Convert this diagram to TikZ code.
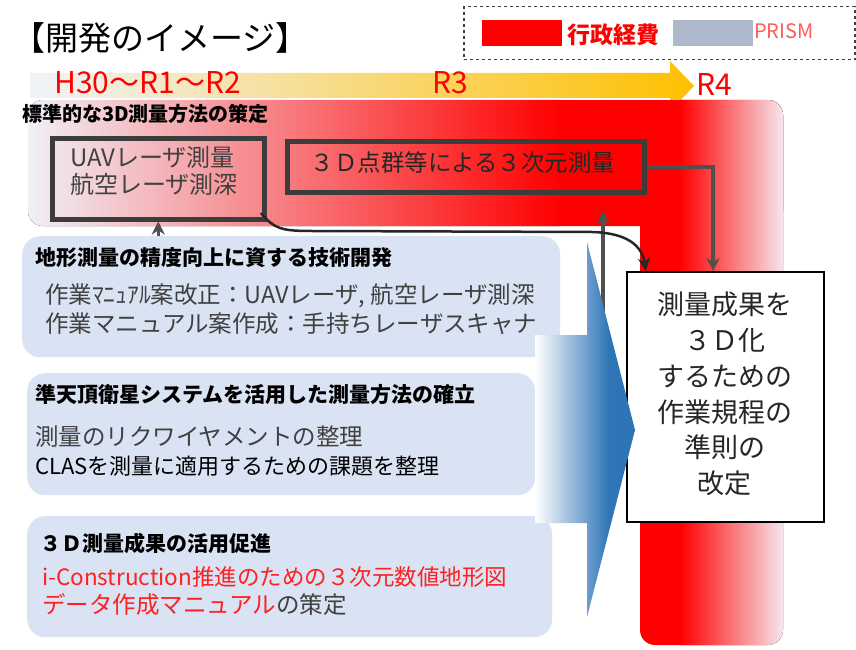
\documentclass[tikz,border=0pt]{standalone}
\usepackage{fontspec}
\setmainfont{Noto Sans CJK JP}
\usetikzlibrary{arrows.meta}
\definecolor{boxblue}{HTML}{DAE3F3}
\definecolor{legred}{HTML}{FF0000}
\definecolor{leggray}{HTML}{ADB9CA}
\definecolor{yel}{HTML}{FFC000}
\definecolor{pale}{RGB}{240,243,250}
\definecolor{palepink}{RGB}{245,232,238}
\definecolor{linegray}{HTML}{505050}
\definecolor{boxline}{HTML}{3C3C3C}
\definecolor{arrowblue}{HTML}{2E75B6}
\definecolor{textgray}{HTML}{404040}
\definecolor{txtred}{HTML}{FF2020}
\definecolor{prism}{HTML}{FF5B5B}
\pgfdeclarehorizontalshading{bluearrow}{100bp}{color(0bp)=(white); color(25bp)=(white); color(62bp)=(arrowblue); color(100bp)=(arrowblue)}
\newcommand{\fs}[1]{\fontsize{#1}{#1}\selectfont}
\begin{document}
\begin{tikzpicture}[x=1pt,y=-1pt,
  txt/.style={anchor=west,inner sep=0pt},
  bluebox/.style={fill=boxblue,rounded corners=18pt,anchor=north west,inner sep=0pt},
  thickbox/.style={draw=boxline,line width=4.5pt,anchor=north west,inner sep=0pt},
  grayarrow/.style={draw=linegray,line width=3.5pt,-{Stealth[length=13pt,width=13pt]}},
  blackarrow/.style={draw=black!85,line width=2.5pt,-{Stealth[length=13pt,width=12pt]}}]
\useasboundingbox (0,0) rectangle (856,650);
\fill[white] (0,0) rectangle (856,650);

% title
\node[txt] (title) at (12,38) {\fs{33}【開発のイメージ】};

% legend
\node[draw=textgray,dashed,line width=1.5pt,anchor=north west,minimum width=391pt,minimum height=53pt,inner sep=0pt] (legend) at (463,6) {};
\node[fill=legred,anchor=north west,minimum width=80pt,minimum height=26pt,inner sep=0pt] (legr) at (482,20) {};
\node[txt,text=legred] (legrt) at (567,35) {\fs{23}\bfseries 行政経費};
\node[fill=leggray,anchor=north west,minimum width=80pt,minimum height=26pt,inner sep=0pt] (legg) at (673,20) {};
\node[txt,text=prism] (leggt) at (754,31) {\fs{20}PRISM};

% yellow time arrow
\shade[left color=pale,right color=yel] (30,73) -- (670,73) -- (670,61) -- (694,86) -- (670,111) -- (670,98) -- (30,98) -- cycle;
\node[txt,text=red] (y1) at (54,83) {\fs{30}H30〜R1〜R2};
\node[txt,text=red] (y2) at (432,83) {\fs{30}R3};
\node[txt,text=red] (y3) at (696,85) {\fs{30}R4};

% red L band
\begin{scope}
\clip[rounded corners=15pt] (28,100) rectangle (783,226);
\fill[left color=pale,right color=red] (20,100) rectangle (560,650);
\fill[red] (559,100) rectangle (681,650);
\fill[left color=red,right color=palepink] (680,100) rectangle (784,650);
\end{scope}
\begin{scope}
\clip[rounded corners=15pt] (640,100) rectangle (783,645);
\fill[left color=pale,right color=red] (20,100) rectangle (560,650);
\fill[red] (559,100) rectangle (681,650);
\fill[left color=red,right color=palepink] (680,100) rectangle (784,650);
\end{scope}

\node[txt] (bandtitle) at (22,114) {\fs{20}\bfseries 標準的な3D測量方法の策定};

% boxes in band
\node[thickbox,minimum width=212pt,minimum height=81pt] (uav) at (50,136) {};
\node[anchor=north west,inner sep=0pt,align=left,text=textgray,font=\fontsize{24}{27}\selectfont] (uavt) at (70,146) {UAVレーザ測量\\航空レーザ測深};
\node[thickbox,minimum width=357pt,minimum height=51pt] (pt3d) at (285,139) {};
\node[inner sep=0pt,text=black!85] (pt3dt) at (463,163) {\fs{23.5}３Ｄ点群等による３次元測量};

% result box
\node[draw=black,line width=2pt,fill=white,anchor=north west,minimum width=197pt,minimum height=250pt,inner sep=0pt] (result) at (626,271) {};
\node[align=center,inner sep=0pt,text=black!85,font=\fontsize{27}{35.7}\selectfont] (resultt) at (724.5,394) {測量成果を\\３Ｄ化\\するための\\作業規程の\\準則の\\改定};

% connectors
\draw[grayarrow] (pt3d.east) -| ([xshift=-12.5pt]result.north);
\coordinate (vstart) at (603,330);
\coordinate (vend) at (603,211);
\draw[grayarrow] (vstart) -- (vend);
\coordinate (cstart) at (261,213);
\draw[blackarrow] (cstart) .. controls (274,229) and (282,231) .. (312,231) -- (592,232) .. controls (628,233) and (642,246) .. ([xshift=20pt]result.north west);

% left boxes
\node[bluebox,minimum width=538pt,minimum height=121pt] (box1) at (22,236) {};
\node[bluebox,minimum width=508pt,minimum height=122pt] (box2) at (27,373) {};
\node[bluebox,minimum width=525pt,minimum height=121pt] (box3) at (27,516) {};

\draw[grayarrow] (uav.south |- box1.north) -- (uav.south);

\node[txt] (b1t) at (35,258) {\fs{21}\bfseries 地形測量の精度向上に資する技術開発};
\node[txt,text=textgray] (b1a) at (45,296) {\fs{23.5}作業ﾏﾆｭｱﾙ案改正：UAVレーザ, 航空レーザ測深};
\node[txt,text=textgray] (b1b) at (45,324) {\fs{23.5}作業マニュアル案作成：手持ちレーザスキャナ};

\node[txt] (b2t) at (35,395) {\fs{21}\bfseries 準天頂衛星システムを活用した測量方法の確立};
\node[txt,text=textgray] (b2a) at (35,437) {\fs{23.5}測量のリクワイヤメントの整理};
\node[txt,text=black] (b2b) at (35,466) {\fs{22}CLASを測量に適用するための課題を整理};

\node[txt] (b3t) at (40,543) {\fs{21}\bfseries ３Ｄ測量成果の活用促進};
\node[txt,text=txtred] (b3a) at (42,577) {\fs{22.5}i-Construction推進のための３次元数値地形図};
\node[txt] (b3b) at (42,605) {\fs{23.5}\textcolor{txtred}{データ作成マニュアル}\textcolor{textgray}{の策定}};

% big blue arrow
\shade[shading=bluearrow] (535,335) -- (587,335) -- (587,242) -- (635,430) -- (587,617) -- (587,523) -- (535,523) -- cycle;
\end{tikzpicture}
\end{document}
